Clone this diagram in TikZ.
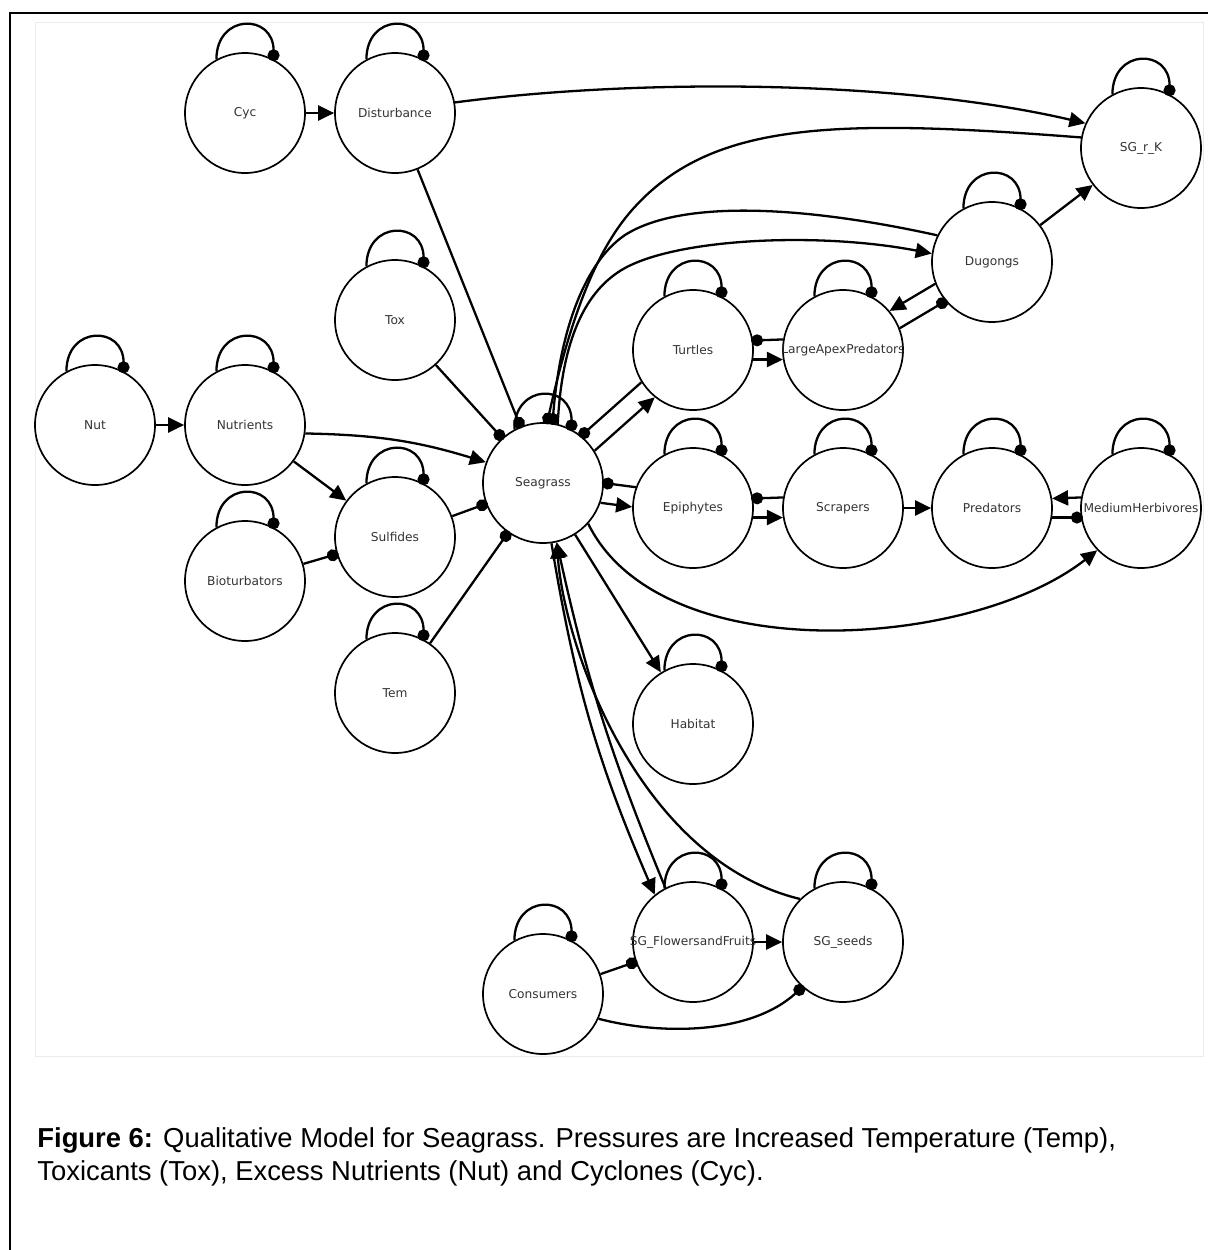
\documentclass[tikz,border=0pt]{standalone}
\usepackage{fontspec}
\setmainfont{DejaVu Sans}
\newfontfamily\capfont{Liberation Sans}
\usetikzlibrary{arrows.meta}
\newcommand\lbl[1]{\makebox[0pt]{#1}}
\begin{document}
\begin{tikzpicture}[x=0.5pt,y=0.5pt,
  nd/.style={circle,draw=black,line width=0.85pt,minimum size=60pt,inner sep=0pt,
    font=\fontsize{6.1pt}{7pt}\selectfont,text=black!80},
  edgeline/.style={line width=1.15pt},
  posedge/.style={edgeline,-{Triangle[length=8pt,width=7.5pt]}},
  negedge/.style={edgeline,-{Circle[length=6pt]},shorten >=-1pt},
  captxt/.style={anchor=base west,inner sep=0pt,font=\capfont\fontsize{13.7pt}{16.5pt}\selectfont}
]
\useasboundingbox (0,0) rectangle (1208,-1250);
\begin{scope}
  \clip (0,0) rectangle (1208,-1250);
  \draw[line width=1.4pt] (10,-13) rectangle (1240,-1280);
\end{scope}
\draw[black!8,line width=0.5pt] (35,-22) rectangle (1203,-1056);

% nodes
\node[nd] (cyc) at (245,-113) {\lbl{Cyc}};
\node[nd] (dist) at (395,-113) {\lbl{Disturbance}};
\node[nd] (tox) at (395,-320) {\lbl{Tox}};
\node[nd] (nut) at (95,-425) {\lbl{Nut}};
\node[nd] (nutrients) at (245,-425) {\lbl{Nutrients}};
\node[nd] (sulf) at (395,-537) {\lbl{Sulfides}};
\node[nd] (bio) at (245,-581) {\lbl{Bioturbators}};
\node[nd] (tem) at (395,-693) {\lbl{Tem}};
\node[nd] (sea) at (543,-483) {\lbl{Seagrass}};
\node[nd] (turt) at (693,-350) {\lbl{Turtles}};
\node[nd] (lap) at (843,-350) {\lbl{LargeApexPredators}};
\node[nd] (dug) at (992,-262) {\lbl{Dugongs}};
\node[nd] (sgrk) at (1141,-148) {\lbl{SG\_r\_K}};
\node[nd] (epi) at (693,-508) {\lbl{Epiphytes}};
\node[nd] (scr) at (843,-508) {\lbl{Scrapers}};
\node[nd] (pred) at (992,-508) {\lbl{Predators}};
\node[nd] (mh) at (1141,-508) {\lbl{MediumHerbivores}};
\node[nd] (hab) at (693,-724) {\lbl{Habitat}};
\node[nd] (flow) at (693,-942) {\lbl{SG\_FlowersandFruits}};
\node[nd] (seeds) at (843,-942) {\lbl{SG\_seeds}};
\node[nd] (cons) at (543,-994) {\lbl{Consumers}};

% self loops
\foreach \n in {cyc,dist,tox,nut,nutrients,sulf,bio,tem,sea,turt,lap,dug,sgrk,epi,scr,pred,mh,hab,flow,seeds,cons}
  \draw[negedge] (\n.118) .. controls +(0pt,23pt) and +(0pt,23pt) .. (\n.62);

% edges
\draw[posedge] (cyc) -- (dist);
\draw[posedge] (dist.10) .. controls (640,-78) and (900,-80) .. (sgrk.156);
\draw[negedge] (dist) -- (sea);
\draw[negedge] (sgrk.170) .. controls (830,-118) and (710,-122) .. (632,-210)
   .. controls (595,-252) and (570,-320) .. (sea.86);
\draw[negedge] (dug.154) .. controls (800,-205) and (680,-200) .. (625,-235)
   .. controls (585,-262) and (560,-330) .. (sea.81);
\draw[posedge] (sea.76) .. controls (562,-340) and (585,-290) .. (625,-268)
   .. controls (680,-238) and (820,-232) .. (dug.172);
\draw[posedge] (dug.201) -- (lap.40.2);
\draw[negedge] (lap.21) -- (dug.220.2);
\draw[posedge] (dug) -- (sgrk);
\draw[negedge] (tox) -- (sea);
\draw[posedge] (nut) -- (nutrients);
\draw[posedge] (nutrients.-8) to[bend left=8] (sea.160);
\draw[posedge] (nutrients) -- (sulf);
\draw[negedge] (bio) -- (sulf);
\draw[negedge] (sulf) -- (sea);
\draw[negedge] (tem) -- (sea);
\draw[negedge] (turt.212) -- (sea.51.2);
\draw[posedge] (sea.32) -- (turt.231.2);
\draw[negedge] (lap.170.4) -- (turt.9.6);
\draw[posedge] (turt.-9.6) -- (lap.189.6);
\draw[negedge] (epi.160.6) -- (sea.-0.2);
\draw[posedge] (sea.-19.4) -- (epi.179.8);
\draw[negedge] (scr.170.4) -- (epi.9.6);
\draw[posedge] (epi.-9.6) -- (scr.189.6);
\draw[posedge] (scr) -- (pred);
\draw[posedge] (mh.170.4) -- (pred.9.6);
\draw[negedge] (pred.-9.6) -- (mh.189.6);
\draw[posedge] (sea.-42) .. controls (660,-670) and (970,-650) .. (mh.224);
\draw[posedge] (sea) -- (hab);
\draw[posedge] (sea.-82) to[bend right=7] (flow.129);
\draw[posedge] (flow.117) to[bend left=5] (sea.-77);
\draw[posedge] (seeds.135) .. controls (640,-860) and (565,-650) .. (sea.-77);
\draw[posedge] (flow) -- (seeds);
\draw[negedge] (cons) -- (flow);
\draw[negedge] (cons.-24) .. controls (660,-1035) and (750,-1035) .. (seeds.228);

% caption
\node[captxt] (cap1) at (37,-1147) {\textbf{Figure 6:} Qualitative Model for Seagrass. Pressures are Increased Temperature (Temp),};
\node[captxt] (cap2) at (37,-1180) {Toxicants (Tox), Excess Nutrients (Nut) and Cyclones (Cyc).};
\end{tikzpicture}
\end{document}
